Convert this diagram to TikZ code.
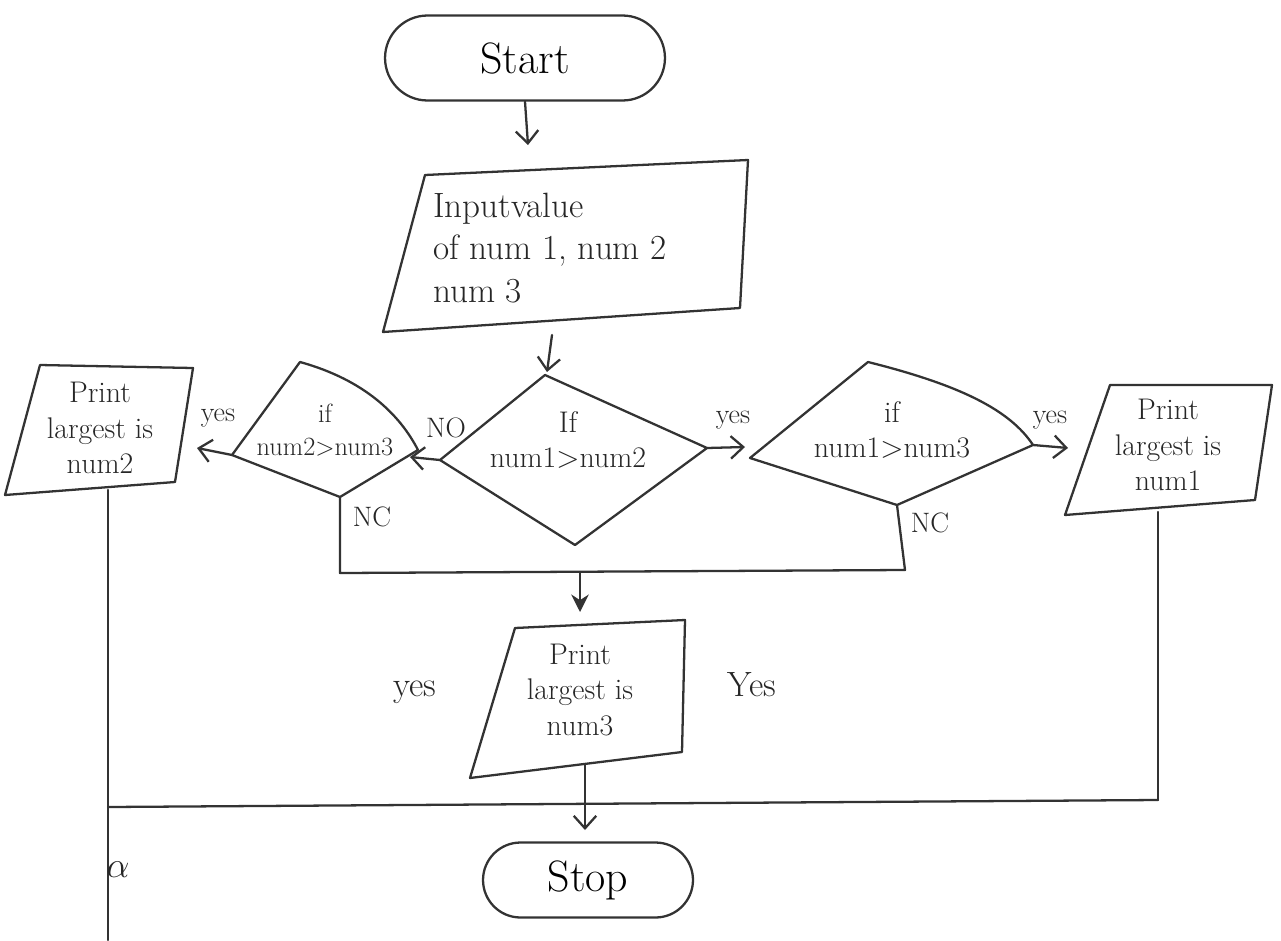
\documentclass[tikz,border=0pt]{standalone}
\usetikzlibrary{arrows.meta,shapes.misc}
\begin{document}
\begin{tikzpicture}[x=0.02cm,y=-0.02cm,
  ink/.style={draw=black!80,line width=1.3pt,line join=round,line cap=round},
  term/.style={ink,rounded rectangle,inner sep=0pt},
  txt/.style={text=black!85,align=center,inner sep=1pt},
  huge/.style={font=\fontsize{25}{30}\selectfont},
  big/.style={font=\fontsize{20}{24}\selectfont},
  mid/.style={font=\fontsize{17}{20}\selectfont},
  small/.style={font=\fontsize{15}{19}\selectfont},
  lab/.style={text=black!85,font=\fontsize{16}{18}\selectfont,inner sep=1pt},
  barb/.style={ink,-{Straight Barb[length=2.5mm,width=4.5mm]}},
  solidtip/.style={ink,-{Stealth[length=3.5mm,width=3.5mm]}}]
\useasboundingbox (0,0) rectangle (1281,940);

% terminals
\node[term,minimum width=5.6cm,minimum height=1.7cm,huge] (start) at (525,58) {Start};
\node[term,minimum width=4.2cm,minimum height=1.5cm,huge] (stop) at (588,880) {Stop};

% input box
\draw[ink] (425,175) -- (748,160) -- (740,308) -- (383,332) -- cycle;
\node[txt,big,align=left] (inp) at (550,248) {Inputvalue\\of num 1, num 2\\num 3};

% decision 1
\draw[ink] (545,375) -- (707,448) -- (575,545) -- (440,460) -- cycle;
\node[txt,mid] (d1) at (568,440) {If\\num1$>$num2};
\coordinate (d1L) at (440,460);
\coordinate (d1R) at (707,448);

% decision left
\draw[ink] (232,455) -- (300,362) .. controls (365,380) and (400,415) .. (418,450) -- (340,497) -- cycle;
\node[txt,small] (d2) at (325,430) {if\\num2$>$num3};
\coordinate (d2L) at (232,455);
\coordinate (d2R) at (418,450);
\coordinate (d2B) at (340,497);

% decision right
\draw[ink] (750,458) -- (868,362) .. controls (960,385) and (1010,410) .. (1033,445) -- (897,505) -- cycle;
\node[txt,mid] (d3) at (892,430) {if\\num1$>$num3};
\coordinate (d3L) at (750,458);
\coordinate (d3R) at (1033,445);
\coordinate (d3B) at (897,505);

% print boxes
\draw[ink] (40,365) -- (193,368) -- (175,482) -- (5,495) -- cycle;
\node[txt,mid] (p2) at (100,428) {Print\\largest is\\num2};
\draw[ink] (1110,385) -- (1272,385) -- (1255,500) -- (1065,515) -- cycle;
\node[txt,mid] (p1) at (1168,445) {Print\\largest is\\num1};
\draw[ink] (515,628) -- (685,620) -- (682,752) -- (470,778) -- cycle;
\node[txt,mid] (p3) at (580,690) {Print\\largest is\\num3};

% coordinates for connectors
\coordinate (inTop) at (528,145);
\coordinate (inBot) at (552,335);
\coordinate (d1Top) at (547,372);
\coordinate (d2Tip) at (410,457);
\coordinate (d3Tip) at (745,447);
\coordinate (p2Tip) at (197,448);
\coordinate (p1Tip) at (1068,448);
\coordinate (ncL) at (340,573);
\coordinate (ncR) at (905,570);
\coordinate (mergeMid) at (580,572);
\coordinate (p3Top) at (580,612);
\coordinate (p2B) at (108,490);
\coordinate (p2End) at (108,940);
\coordinate (jL) at (108,807);
\coordinate (jR) at (1158,800);
\coordinate (p1B) at (1158,512);
\coordinate (p3B) at (585,764);
\coordinate (stopTip) at (585,830);

% connectors
\draw[barb] (start.south) -- (inTop);
\draw[barb] (inBot) -- (d1Top);
\draw[barb] (d1L) -- (d2Tip);
\draw[barb] (d1R) -- (d3Tip);
\draw[barb] (d2L) -- (p2Tip);
\draw[barb] (d3R) -- (p1Tip);
\draw[ink] (d2B) -- (ncL) -- (ncR) -- (d3B);
\draw[solidtip] (mergeMid) -- (p3Top);
\draw[ink] (p2B) -- (p2End);
\draw[ink] (jL) -- (jR);
\draw[ink] (p1B) -- (jR);
\draw[barb] (p3B) -- (stopTip);

% labels
\node[lab] (lno) at (446,428) {NO};
\node[lab] (lyes1) at (733,420) {yes};
\node[lab] (lyes2) at (218,418) {yes};
\node[lab] (lyes3) at (1050,420) {yes};
\node[lab] (lnc1) at (372,517) {NC};
\node[lab] (lnc2) at (930,523) {NC};
\node[txt,big] (lyes4) at (415,692) {yes};
\node[txt,big] (lyes5) at (752,685) {Yes};
\node[txt,big] (alpha) at (118,870) {$\alpha$};
\end{tikzpicture}
\end{document}
